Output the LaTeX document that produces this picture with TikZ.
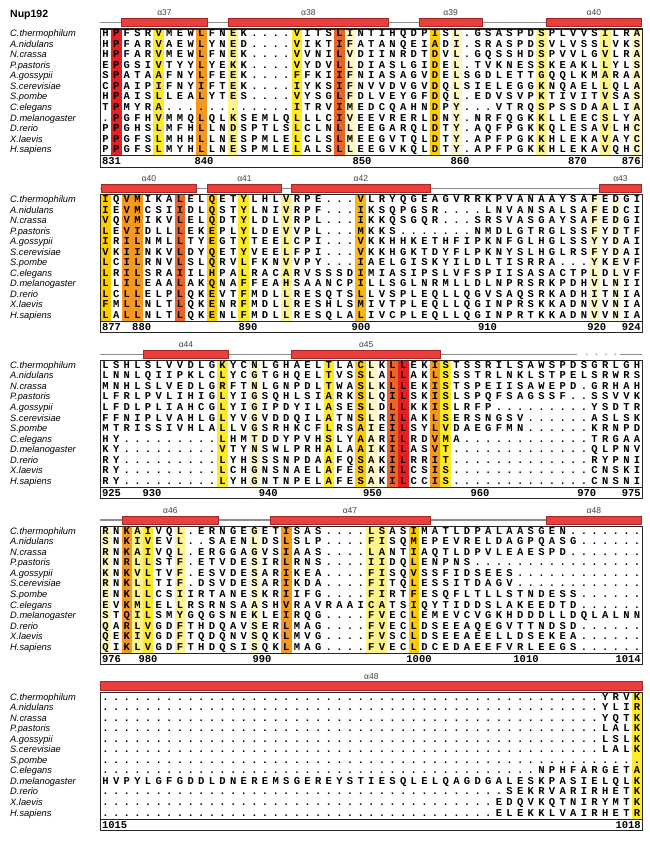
\documentclass[tikz,border=0pt]{standalone}
\usepackage{fontspec}
\setmainfont{Liberation Sans}
\newfontfamily\resfont{Liberation Mono}
\definecolor{cR}{RGB}{228,32,36}
\definecolor{cDO}{RGB}{234,100,40}
\definecolor{cO}{RGB}{245,152,32}
\definecolor{cG}{RGB}{255,204,0}
\definecolor{cGO}{RGB}{250,182,20}
\definecolor{cY}{RGB}{255,234,40}
\definecolor{cLY}{RGB}{255,243,140}
\definecolor{cPY}{RGB}{255,248,196}
\definecolor{cVPY}{RGB}{255,251,225}
\definecolor{helixred}{RGB}{236,62,58}
\definecolor{helixedge}{RGB}{160,40,40}
\definecolor{coilgray}{RGB}{140,140,140}
\tikzset{
 res/.style={font=\resfont\bfseries\fontsize{10.5}{10}\selectfont, inner sep=0pt, anchor=base},
 spname/.style={font=\itshape\fontsize{9.3}{10}\selectfont, inner sep=0pt, anchor=base west},
 numl/.style={font=\resfont\bfseries\fontsize{10.5}{10}\selectfont, inner sep=0pt, anchor=base},
 hlab/.style={font=\fontsize{8.5}{9}\selectfont, text=black!75, inner sep=0pt, anchor=base},
 boxline/.style={line width=1.1pt, draw=black!85},
 coil/.style={line width=1.4pt, draw=coilgray},
 helix/.style={fill=helixred, draw=helixedge, line width=0.5pt},
}
\def\xz{100.3}
\def\cw{10.63}
\def\xr{642.4}
\def\gp{gapmark}
\newcount\cc
\newcount\gn
\def\putres#1{\node[res] (r\curb-\curr-\the\cc) at ({\xz+(\the\cc+0.5)*\cw},{\Yz+10.55*\curr+3.3}) {#1};\advance\cc by 1\relax}
\def\seqloop#1{%
  \ifx#1\relax\let\sqnext\fillrest
  \else\ifx#1\gp\let\sqnext\gaprun
  \else\putres{#1}\let\sqnext\seqloop
  \fi\fi\sqnext}
\def\gaprun#1{\gn=#1\relax\gaploop}
\def\gaploop{\ifnum\gn>0 \putres{.}\advance\gn by -1\relax\let\sqnext\gaploop\else\let\sqnext\seqloop\fi\sqnext}
\def\fillrest{\ifnum\cc<51 \putres{.}\let\sqnext\fillrest\else\let\sqnext\relax\fi\sqnext}
\newcommand\seqrow[2]{\def\curr{#1}\cc=0\relax\seqloop#2\relax}
\newcommand\blockframe[2]{%
  \def\curb{#1}%
  \pgfmathsetmacro\Yz{33.3+165.85*#1}%
  \pgfmathsetmacro\Ytop{\Yz-4.3}%
  \pgfmathsetmacro\Ylast{\Yz+116.05}%
  \pgfmathsetmacro\Ysep{\Ylast+6.5}%
  \pgfmathsetmacro\Ybot{\Ylast+17.7}%
  \foreach \cI/\hc in {#2} {\fill[\hc] ({\xz+\cI*\cw},\Ytop) rectangle ({\xz+(\cI+1)*\cw},\Ysep);}%
  \foreach \nm [count=\i from 0] in {C.thermophilum,A.nidulans,N.crassa,P.pastoris,A.gossypii,S.cerevisiae,S.pombe,C.elegans,D.melanogaster,D.rerio,X.laevis,H.sapiens} {\node[spname] (sp#1-\i) at (10,{\Yz+10.55*\i+3.3}) {\nm};}%
  \draw[boxline] (\xz,\Ytop) rectangle (\xr,\Ybot);%
  \draw[boxline] (\xz,\Ysep) -- (\xr,\Ysep);%
}
\newcommand\coilfull{\draw[coil] (\xz,{\Yz-10.8}) -- (\xr,{\Yz-10.8});}
\newcommand\helixbar[3]{\draw[helix] (#1,{\Yz-15}) rectangle (#2,{\Yz-6.7}); \node[hlab] (hx\curb-#3) at ({(#1+#2)/2},{\Yz-17.5}) {α#3};}
\newcommand\numends[2]{%
  \pgfmathsetmacro\Yn{\Yz+116.05+15.6}%
  \node[numl,anchor=base west] (nl\curb) at ({\xz+1.5},\Yn) {#1};%
  \node[numl,anchor=base east] (nr\curb) at ({\xr-1.5},\Yn) {#2};}
\newcommand\numlist[1]{\foreach \xx/\tx [count=\k] in {#1} {\node[numl] (nm\curb-\k) at (\xx,\Yn) {\tx};}}
\begin{document}
\begin{tikzpicture}[x=1pt,y=-1pt]
\useasboundingbox (0,0) rectangle (650,841);
\fill[white] (0,0) rectangle (650,841);
\node[font=\bfseries\fontsize{10.5}{12}\selectfont, anchor=base west, inner sep=0pt] (title) at (10,17) {Nup192};
% ---------------- Block 1
\blockframe{0}{1/cR,5/cY,9/cO,12/cLY,18/cY,22/cDO,23/cPY,31/cG,33/cPY,41/cLY,47/cLY,50/cPY}
\coilfull
\helixbar{121.7}{207.3}{37}
\helixbar{228.3}{388.3}{38}
\helixbar{419}{482.3}{39}
\helixbar{546}{641.7}{40}
\seqrow{0}{HPFSRVMEWLFNEK\gp4VITSLINTIHQDPISL.GSASPDSPLVVSILRA}
\seqrow{1}{HPFARVAEWLYNED\gp4VIKTIFATANQEIADI.SRASPDSVLVSSLVKS}
\seqrow{2}{HPFARVMEWLFNEK\gp4VVNILVDIINRDTDVL.GQSSHDSPVVLGVLRA}
\seqrow{3}{EPGSIVTYYLYEKK\gp4VYDVLLDIASLGIDEL.TVKNESSKEAKLLYLS}
\seqrow{4}{SPATAAFNYLFEEK\gp4FFKIIFNIASAGVDELSGDLETTGQQLKMARAA}
\seqrow{5}{CPAIPIFNYIFTEK\gp4IYKSIFNVVDVGVDQLSIELEGGKNQAELLQLA}
\seqrow{6}{HPAISLLEALYTES\gp4VYSGLFDLVEYGFDQL.EDVSVPKTIVITVSAS}
\seqrow{7}{TPMYRA\gp{12}ITRVIMEDCQAHNDPY\gp3VTRQSPSSDAALIA}
\seqrow{8}{.PGFHVMMQLQLKSEMLQLLLCIVEEVRERLDNY.NRFQGKKLLEECSLYA}
\seqrow{9}{PPGHSLMFHLLNDSPTLSLCLNLLEEGARQLDTY.AQFPGKKQLESAVLHC}
\seqrow{10}{PPGFSLMHHLLNESPMLELCLSLMEEGVTQLDTY.APFPGKKHLEKAVAYC}
\seqrow{11}{PPGFSLMYHLLNESPMLELALSLLEEGVKQLDTY.APFPGKKHLEKAVQHC}
\numends{831}{876}
\numlist{204/840,362/850,460/860,577.5/870}
% ---------------- Block 2
\blockframe{1}{0/cG,2/cO,3/cO,7/cDO,10/cG,13/cY,17/cLY,24/cGO,46/cPY,48/cVPY}
\coilfull
\helixbar{101}{196.7}{40}
\helixbar{207.3}{281.7}{41}
\helixbar{291.7}{430}{42}
\helixbar{599.3}{641.7}{43}
\seqrow{0}{IQVMIKALELQETYLHLVRPE\gp3VLRYQGEAGVRRKPVANAAYSAFEDGI}
\seqrow{1}{IEVMCSIIDLQSTYLNIVRPF\gp3IKSQPGSR\gp4LNVANSALSAFEDCI}
\seqrow{2}{VQVMIKVLELQDTYLDLVRPL\gp3IKKQSGQR\gp3SRSVASGAYSAFEDGI}
\seqrow{3}{LEVIDLLLEKEPLYLDEVVPL\gp3MKKS\gp7NMDLGTRGLSSFYDTF}
\seqrow{4}{IRILNMLLTYEGTYTEELCPI\gp3VKKHHKETHFIPKNFGLHGLSSYYDAI}
\seqrow{5}{VKIINKVLDYQETYVEELFPI\gp3VKKHGKTDYFLPKNYSLHGLRSFYDAI}
\seqrow{6}{LCILRNVLSLQRVLFKNVVPY\gp3IAELGISKYILDLTISRRA\gp3YKEVF}
\seqrow{7}{LRILSRAIILHPALRACARVSSSDIMIASIPSLVFSPIISASACTPLDLVF}
\seqrow{8}{LLILEAALAKQNAFFEAHSAANCPILLSGLNRMLLDLNPRSRKPDHVLNII}
\seqrow{9}{LCLLELPLQKEVTFMDLLRESQTSLLVSPLEQLLQGVSAQSRKADHITNIA}
\seqrow{10}{FMLLNLTLQKENRFMDLLRESHLSMIVTPLEQLLQGINPRSKKADNVVNIA}
\seqrow{11}{LALLNLTLQKENLFMDLLRESQLALIVCPLEQLLQGINPRTKKADNVVNIA}
\numends{877}{924}
\numlist{141.7/880,248/890,361/900,487.5/910,596.7/920}
% ---------------- Block 3
\blockframe{2}{11/cY,14/cPY,21/cY,24/cG,25/cPY,27/cDO,28/cR,31/cO,32/cY}
\draw[coil] (\xz,{\Yz-10.8}) -- (576.7,{\Yz-10.8});
\draw[coil] (620,{\Yz-10.8}) -- (\xr,{\Yz-10.8});
\foreach \dx in {586.7,596.4,606,615.3} {\fill[coilgray!45] (\dx,{\Yz-10.8}) circle (1.4);}
\helixbar{143.3}{228.7}{44}
\helixbar{291.7}{440.7}{45}
\seqrow{0}{LSHLSLVVDLGKYCNLGHAELTLACLKLLEKISTSSRILSAWSPDSGRLGH}
\seqrow{1}{LNNLQIIPKLCLYCGTGHQELTVSSLALLAKLSSSTRLNKLSTPELSRWRS}
\seqrow{2}{MNHLSLVEDLGRFTNLGNPDLTWASLKLLEKISTSPEIISAWEPD.GRHAH}
\seqrow{3}{LFRLPVLIHIGLYIGSQHLSIARKSLQILSKISLSPQFSAGSSF..SSVVK}
\seqrow{4}{LFDLPLIAHCGLYIGIPDYILASESLDLLKKISLRFP\gp9YSDTR}
\seqrow{5}{FFNIPLVAHLGLYVGVDDQILATNSLRILAKLSERSNGSV\gp6ASLSK}
\seqrow{6}{MTRISSIVHLALLVGSRHKCFLRSAIEILSYLVDAEGFMN\gp6KRNPD}
\seqrow{7}{HY\gp9LHMTDDYPVHSLYAARILRDVMA\gp{12}TRGAA}
\seqrow{8}{KY\gp9VTYNSWLPRHALAAIKILASVT\gp{13}QLPNV}
\seqrow{9}{RY\gp9LYHSSSNPDAAFQSAKILRRIT\gp{13}RYPNI}
\seqrow{10}{RY\gp9LCHGNSNAELAFESAKILCSIS\gp{13}CNSKI}
\seqrow{11}{RY\gp9LYHGNTNPELAFESAKILCCIS\gp{13}CNSNI}
\numends{925}{975}
\numlist{152/930,268.3/940,372.5/950,480/960,586.7/970}
% ---------------- Block 4
\blockframe{3}{0/cPY,2/cO,3/cLY,4/cY,7/cLY,14/cPY,17/cO,25/cLY,26/cLY,29/cG}
\coilfull
\helixbar{122.3}{218.3}{46}
\helixbar{270}{430}{47}
\helixbar{546}{641.7}{48}
\seqrow{0}{RNKAIVQL.ERNGEGETISAS\gp4LSASIMATLDPALAASGEN}
\seqrow{1}{SNKIVEVL..SAENLDSLSLP\gp4FISQMEPEVRELDAGPQASG}
\seqrow{2}{RNKAIVQL.ERGGAGVSIAAS\gp4LANTIAQTLDPVLEAESPD}
\seqrow{3}{KNRLLSTF.ETVDESIRLRNS\gp4IIDQLENPNS}
\seqrow{4}{KNKVLTVF.ESVDESARIKEA\gp4FISQVSSFIDSEES}
\seqrow{5}{RNKLLTIF.DSVDESARIKDA\gp4FITQLESSITDAGV}
\seqrow{6}{ENKLLCSIIRTANESKRIIFG\gp4FIRTFESQFLTLLSTNDESS}
\seqrow{7}{EVKMLELLRSRNSAASHVRAVRAAICATSIQYTIDDSLAKEEDTD}
\seqrow{8}{STQILSMYGQGSNEKLEIRQG\gp4FVECLEMEVCVGKHDDDLLDQLALNN}
\seqrow{9}{QARLVGDFTHDQAVSERLMAG\gp4FVECLDSEEAQEGVTTNDSD}
\seqrow{10}{QEKIVGDFTQDQNVSQKLMVG\gp4FVSCLDSEEAEELLDSEKEA}
\seqrow{11}{QIKLVGDFTHDQSISQKLMAG\gp4FVECLDCEDAEEFVRLEEGS}
\numends{976}{1014}
\numlist{148/980,262/990,419/1000,526/1010}
% ---------------- Block 5
\blockframe{4}{50/cY}
\helixbar{\xz}{\xr}{48}
\seqrow{0}{\gp{47}YRVK}
\seqrow{1}{\gp{47}YLIR}
\seqrow{2}{\gp{47}YQTK}
\seqrow{3}{\gp{47}LALK}
\seqrow{4}{\gp{47}LSLK}
\seqrow{5}{\gp{47}LALK}
\seqrow{6}{}
\seqrow{7}{\gp{41}NPHFARGETA}
\seqrow{8}{HVPYLGFGDDLDNEREMSGEREYSTIESQLELQAGDGALESKPASIELQLK}
\seqrow{9}{\gp{38}SEKRVARIRHETK}
\seqrow{10}{\gp{37}EDQVKQTNIRYMTK}
\seqrow{11}{\gp{37}ELEKKLVAIRHETR}
\numends{1015}{1018}
\end{tikzpicture}
\end{document}
